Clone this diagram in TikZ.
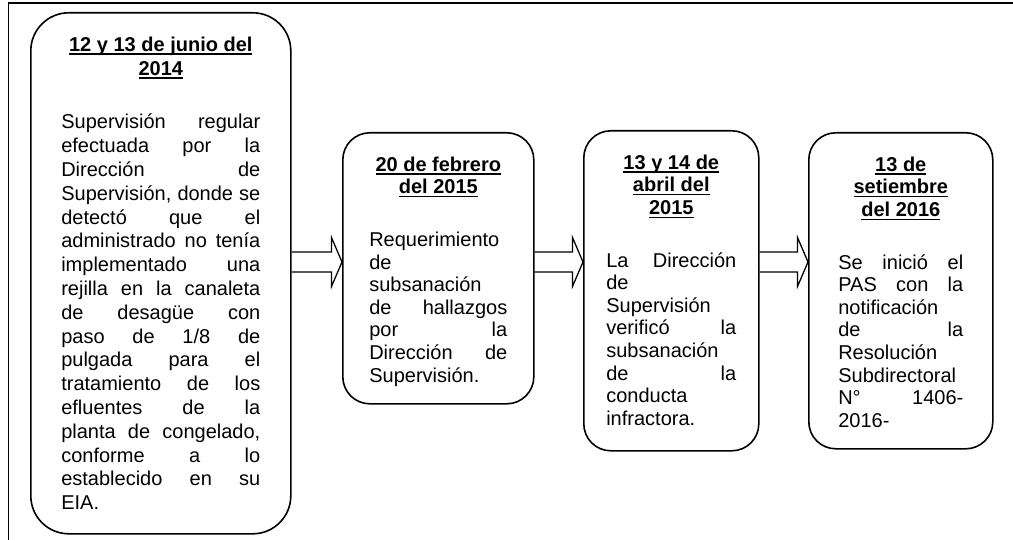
\documentclass[tikz,border=0pt]{standalone}
\usepackage{fontspec}
\setmainfont{Liberation Sans}
\usetikzlibrary{calc}
\tolerance=10000
\hbadness=10000
\vbadness=10000
\hyphenpenalty=10000
\exhyphenpenalty=10000
\newcommand{\subr}[1]{\leavevmode\setbox0\hbox{#1}\rlap{\rule[-3.6pt]{\wd0}{1.5pt}}\box0}
\newcommand{\fecha}[1]{{\centering\bfseries #1\par}\vspace{30pt}}
\begin{document}
\begin{tikzpicture}[x=1pt,y=1pt,
  caja/.style={draw,line width=1.6pt,anchor=north west,inner sep=0pt,rounded corners=27pt,font=\fontsize{20}{#1}\selectfont},
  caja/.default=22.6,
  flecha/.style={line width=1.3pt,line join=miter}]
\pgfmathsetmacro{\kasta}{10}
\pgfmathsetmacro{\kala}{24.5}
\pgfmathsetmacro{\kpunta}{10.5}
\useasboundingbox (0,0) rectangle (1013,-540);
\draw[line width=1.5pt] (1013,-3) -- (8.5,-3) -- (8.5,-540);
\node[caja=23.8,rounded corners=38pt,minimum width=260,minimum height=521] (c1) at (30,-12)
 {\parbox[t][473pt][t]{199pt}{\fecha{\subr{12 y 13 de junio del}\\\subr{2014}}%
 Supervisión regular\linebreak
 efectuada por la\linebreak
 Dirección de\linebreak
 Supervisión, donde se\linebreak
 detectó que el\linebreak
 administrado no tenía\linebreak
 implementado una\linebreak
 rejilla en la canaleta\linebreak
 de desagüe con\linebreak
 paso de 1/8 de\linebreak
 pulgada para el\linebreak
 tratamiento de los\linebreak
 efluentes de la\linebreak
 planta de congelado,\linebreak
 conforme a lo\linebreak
 establecido en su\linebreak
 EIA.}};
\node[caja,minimum width=191,minimum height=271] (c2) at (342,-132)
 {\parbox[t][223pt][t]{138pt}{\fecha{\subr{20 de febrero}\\\subr{del 2015}}%
 Requerimiento\linebreak
 de\linebreak
 subsanación\linebreak
 de hallazgos\linebreak
 por la\linebreak
 Dirección de\linebreak
 Supervisión.}};
\node[caja,minimum width=175,minimum height=320] (c3) at (583,-130)
 {\parbox[t][272pt][t]{130pt}{\fecha{\subr{13 y 14 de}\\\subr{abril del}\\\subr{2015}}%
 La Dirección\linebreak
 de\linebreak
 Supervisión\linebreak
 verificó la\linebreak
 subsanación\linebreak
 de la\linebreak
 conducta\linebreak
 infractora.}};
\node[caja,minimum width=184,minimum height=316] (c4) at (808,-132)
 {\parbox[t][268pt][t]{125pt}{\fecha{\subr{13 de}\\\subr{setiembre}\\\subr{del 2016}}%
 Se inició el\linebreak
 PAS con la\linebreak
 notificación\linebreak
 de la\linebreak
 Resolución\linebreak
 Subdirectoral\linebreak
 N° 1406-\linebreak
 2016-}};
\coordinate (eje) at (0,-262);
\foreach \ca/\cb in {c1/c2,c2/c3,c3/c4}{
\draw[flecha] ($(\ca.east|-eje)+(0,\kasta)$) -- ($(\cb.west|-eje)+(-\kpunta,\kasta)$) -- ++(0,\kala-\kasta) -- (\cb.west|-eje) -- ($(\cb.west|-eje)+(-\kpunta,-\kala)$) -- ++(0,\kala-\kasta) -- ($(\ca.east|-eje)+(0,-\kasta)$);}
\end{tikzpicture}
\end{document}
